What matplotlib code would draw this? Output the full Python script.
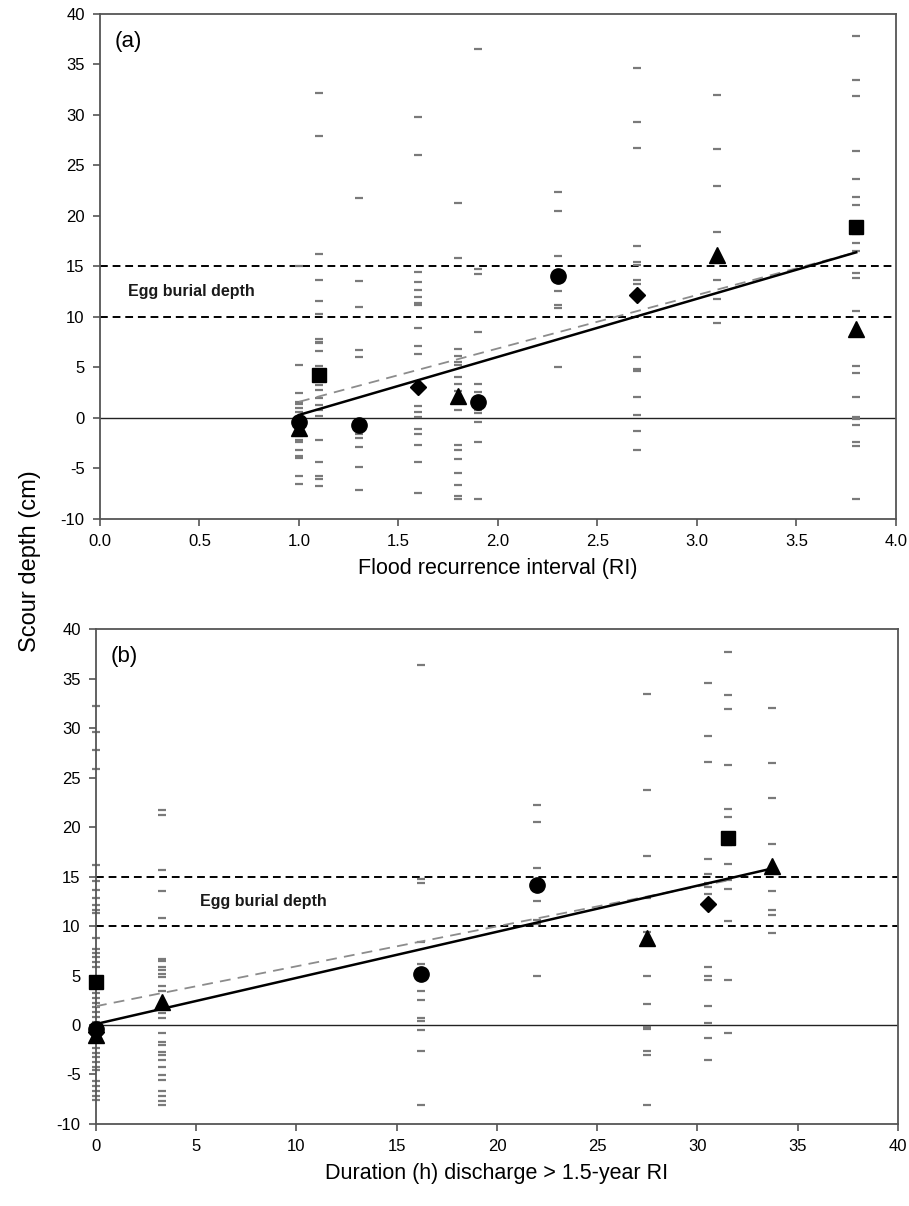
import numpy as np
import matplotlib.pyplot as plt

plt.rcParams['font.family'] = ['Liberation Sans', 'DejaVu Sans']
plt.rcParams['axes.unicode_minus'] = False  # 刻度用普通减号

# ---------------- (a) 数据：洪水重现期 RI ----------------
a_cols = [1.0, 1.1, 1.3, 1.6, 1.8, 1.9, 2.3, 2.7, 3.1, 3.8]
a_vals = [
    [15.0, 5.2, 2.5, 1.6, 1.4, 1.0, 0.6, -1.8, -2.2, -2.4, -3.2, -3.8, -4.0, -5.7, -6.5],
    [32.2, 27.9, 16.2, 13.7, 11.6, 10.3, 7.8, 7.55, 7.4, 6.6, 5.15, 3.8, 3.3, 2.8, 1.95,
     1.3, 0.8, 0.2, -2.2, -4.4, -5.7, -6.0, -6.7],
    [21.8, 13.6, 11.0, 6.7, 6.0, -1.6, -2.0, -2.9, -4.9, -7.1],
    [29.8, 26.0, 14.5, 13.5, 12.7, 11.95, 11.4, 11.2, 8.9, 7.1, 6.3, 1.2, 0.56, 0.07,
     -1.1, -1.6, -2.7, -4.4, -7.4],
    [21.3, 15.8, 6.8, 6.1, 5.5, 5.2, 4.1, 3.4, 2.7, 0.8, -2.7, -3.2, -4.1, -5.5, -6.6,
     -7.7, -8.05],
    [36.5, 14.7, 14.3, 8.5, 3.4, 2.6, 0.8, 0.46, -0.4, -2.4, -8.05],
    [22.4, 20.5, 16.0, 12.6, 11.2, 10.9, 5.0],
    [34.7, 29.3, 26.7, 17.0, 15.4, 15.15, 13.7, 13.3, 6.0, 4.8, 4.6, 2.05, 0.3, -1.25, -3.2],
    [32.0, 26.6, 23.0, 18.4, 13.7, 11.75, 9.4],
    [37.8, 33.5, 31.9, 26.4, 23.7, 21.9, 21.1, 18.2, 17.3, 16.5, 14.4, 13.9, 10.6, 8.1,
     5.1, 4.5, 2.1, 0.07, -0.1, -0.7, -2.4, -2.8, -8.05],
]
# 平均值（黑色符号）
a_circle_x = [1.0, 1.3, 1.9, 2.3]
a_circle_y = [-0.4, -0.7, 1.6, 14.1]
a_square_x = [1.1, 3.8]
a_square_y = [4.3, 18.9]
a_tri_x = [1.0, 1.8, 3.1, 3.8]
a_tri_y = [-1.0, 2.2, 16.1, 8.8]
a_dia_x = [1.6, 2.7]
a_dia_y = [3.1, 12.2]
# 回归线端点
a_fit_x = [1.0, 3.8]
a_fit_y = [0.3, 16.4]
a_fit2_x = [1.0, 3.8]
a_fit2_y = [1.6, 16.4]

# ---------------- (b) 数据：超过1.5年RI的流量持续时间 ----------------
b_cols = [0.0, 3.3, 16.2, 22.0, 27.5, 30.5, 31.5, 33.7]
b_vals = [
    [32.2, 29.6, 27.8, 25.9, 16.2, 14.5, 13.6, 12.8, 12.1, 11.6, 11.3, 8.8, 7.7, 7.3,
     6.9, 6.4, 5.9, 3.2, 2.7, 2.2, 1.85, 1.3, 0.8, 0.3, -2.35, -2.8, -3.2, -3.7, -4.2,
     -4.5, -5.7, -6.2, -6.7, -7.2, -7.6],
    [21.7, 21.2, 15.7, 13.5, 10.8, 6.7, 6.5, 5.9, 5.6, 5.2, 4.8, 3.9, 3.4, 1.7, 1.2, 0.7,
     -0.8, -1.7, -2.0, -2.7, -3.0, -3.5, -4.2, -5.05, -5.6, -6.7, -7.2, -7.7, -8.1],
    [36.4, 14.7, 14.3, 8.4, 6.2, 3.4, 2.5, 0.7, 0.4, -0.5, -2.6, -8.1],
    [22.2, 20.5, 15.9, 12.5, 10.6, 10.2, 4.9],
    [33.4, 23.7, 17.1, 12.8, 9.4, 5.0, 2.1, -0.2, -0.4, -2.6, -3.0, -8.1],
    [34.6, 29.2, 26.6, 16.8, 15.3, 14.3, 13.9, 13.2, 5.9, 4.9, 4.5, 1.95, 0.2, -1.3, -3.5],
    [37.7, 33.3, 31.9, 26.3, 21.8, 21.0, 18.2, 16.3, 14.6, 13.7, 10.5, 4.5, -0.8],
    [32.0, 26.5, 22.9, 18.3, 13.5, 11.6, 11.1, 9.3],
]
b_circle_x = [0.0, 16.2, 22.0]
b_circle_y = [-0.4, 5.2, 14.1]
b_square_x = [0.0, 31.5]
b_square_y = [4.3, 18.9]
b_tri_x = [0.0, 3.3, 27.5, 33.7]
b_tri_y = [-1.0, 2.3, 8.8, 16.1]
b_dia_x = [0.0, 30.5]
b_dia_y = [-0.7, 12.2]
b_fit_x = [0.0, 33.7]
b_fit_y = [0.1, 15.8]
b_fit2_x = [0.0, 31.5]
b_fit2_y = [1.9, 14.6]


def draw_panel(ax, cols, vals, circ, sq, tri, dia, fit, fit2, text_x, tag):
    # 灰色短横线：单个测点
    for x, v in zip(cols, vals):
        ax.plot([x] * len(v), v, linestyle='none', marker='_', markersize=5.5,
                markeredgewidth=1.6, color='#7a7a7a', clip_on=False, zorder=2)
    # 零线和产卵深度范围
    ax.axhline(0, color='#222222', linewidth=1.0, zorder=1)
    ax.axhline(15, color='black', linestyle=(0, (4, 2.5)), linewidth=1.4, zorder=1)
    ax.axhline(10, color='black', linestyle=(0, (4, 2.5)), linewidth=1.4, zorder=1)
    # 回归线
    ax.plot(fit2[0], fit2[1], color='#8c8c8c', linestyle=(0, (6, 4)), linewidth=1.3, zorder=3)
    ax.plot(fit[0], fit[1], color='black', linewidth=1.8, zorder=4)
    # 平均值符号
    ax.plot(dia[0], dia[1], 'D', color='black', markersize=8.5, linestyle='none', zorder=5, clip_on=False)
    ax.plot(tri[0], tri[1], '^', color='black', markersize=11, linestyle='none', zorder=5, clip_on=False)
    ax.plot(circ[0], circ[1], 'o', color='black', markersize=11, linestyle='none', zorder=6, clip_on=False)
    ax.plot(sq[0], sq[1], 's', color='black', markersize=9.5, linestyle='none', zorder=6, clip_on=False)

    ax.text(text_x, 12.5, 'Egg burial depth', fontsize=11.5, fontweight='bold',
            va='center', ha='left', color='#1a1a1a')
    ax.text(0.018, 0.945, tag, fontsize=16, transform=ax.transAxes, va='center', ha='left')

    ax.set_ylim(-10, 40)
    ax.set_yticks(np.arange(-10, 41, 5))
    for s in ax.spines.values():
        s.set_color('#555555')
        s.set_linewidth(1.3)
    ax.tick_params(direction='out', length=5, width=1.2, color='#555555',
                   labelsize=12, pad=6)


fig = plt.figure(figsize=(9.09, 12.06), dpi=100)
ax1 = fig.add_axes([0.1100, 0.5697, 0.8757, 0.4187])
ax2 = fig.add_axes([0.1056, 0.0680, 0.8823, 0.4104])

draw_panel(ax1, a_cols, a_vals, (a_circle_x, a_circle_y), (a_square_x, a_square_y),
           (a_tri_x, a_tri_y), (a_dia_x, a_dia_y), (a_fit_x, a_fit_y), (a_fit2_x, a_fit2_y),
           0.14, '(a)')
ax1.set_xlim(0, 4)
ax1.set_xticks(np.arange(0, 4.01, 0.5))
ax1.set_xticklabels(['%.1f' % t for t in np.arange(0, 4.01, 0.5)])
ax1.set_xlabel('Flood recurrence interval (RI)', fontsize=15.5, labelpad=6)

draw_panel(ax2, b_cols, b_vals, (b_circle_x, b_circle_y), (b_square_x, b_square_y),
           (b_tri_x, b_tri_y), (b_dia_x, b_dia_y), (b_fit_x, b_fit_y), (b_fit2_x, b_fit2_y),
           5.2, '(b)')
ax2.set_xlim(0, 40)
ax2.set_xticks(np.arange(0, 41, 5))
ax2.set_xlabel('Duration (h) discharge > 1.5-year RI', fontsize=15.5, labelpad=6)

fig.text(0.033, 0.535, 'Scour depth (cm)', fontsize=17, rotation=90, va='center', ha='center')

plt.savefig('out.png', dpi=100)
